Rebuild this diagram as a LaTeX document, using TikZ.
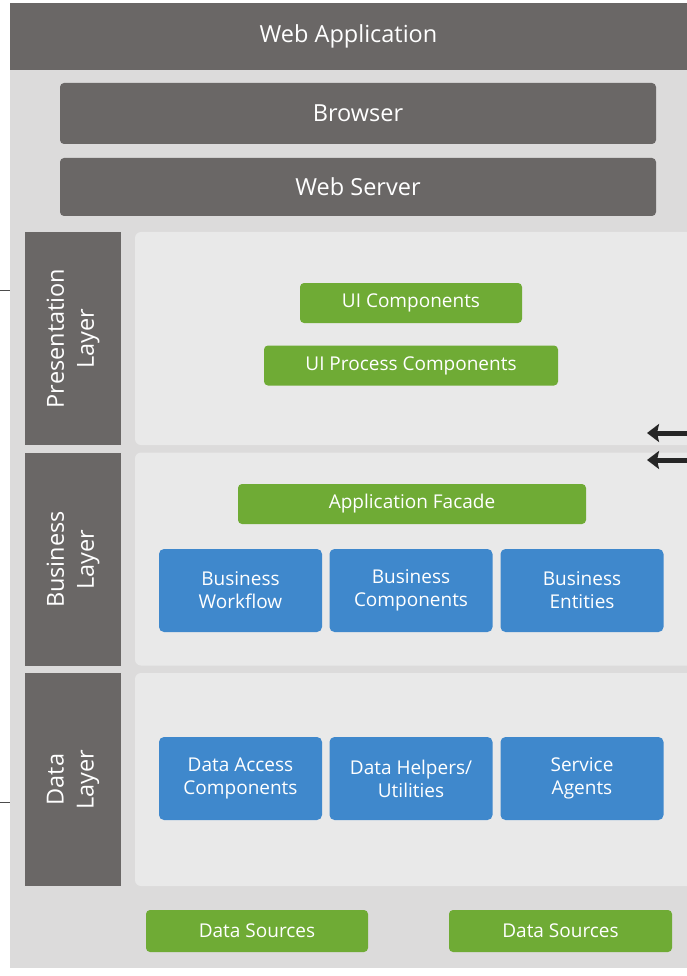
\documentclass[tikz,border=0pt]{standalone}
\usepackage{fontspec}
\setmainfont{Open Sans}
\usetikzlibrary{arrows.meta}
\definecolor{darkbar}{HTML}{6A6766}
\definecolor{panelgrey}{HTML}{DCDBDB}
\definecolor{innergrey}{HTML}{E9E9E9}
\definecolor{leafgreen}{HTML}{6FAB35}
\definecolor{tileblue}{HTML}{3F88CC}
\newcommand{\headfont}{\fontsize{23.5}{30}\selectfont}
\newcommand{\boxfont}{\fontsize{19}{23}\selectfont}

\begin{document}
\begin{tikzpicture}[x=1pt,y=-1pt]
		\tikzstyle{every node}+=[inner sep=0pt, align=center]
		\tikzstyle{topbar}=[fill=darkbar, text=white, font=\headfont]
		\tikzstyle{tierbox}=[fill=darkbar, text=white, font=\headfont, rounded corners=4pt, minimum width=596pt]
		\tikzstyle{layerbox}=[fill=darkbar, text=white, font=\headfont, rotate=90, minimum width=213pt, minimum height=96pt]
		\tikzstyle{panel}=[fill=innergrey, rounded corners=6pt, minimum height=213pt]
		\tikzstyle{greenbox}=[fill=leafgreen, text=white, font=\boxfont, rounded corners=4pt, minimum height=40pt]
		\tikzstyle{bluebox}=[fill=tileblue, text=white, font=\boxfont, rounded corners=5pt, minimum width=163pt, minimum height=83pt]
		\useasboundingbox (0,0) rectangle (687,976);
		\fill [white] (0,0) rectangle (687,976);
		\fill [panelgrey] (10,70) rectangle (687,968);
		\node [topbar, minimum width=677pt, minimum height=67pt] (webapp) at (348.5,36.5) {Web Application};
		\node [tierbox, minimum height=61pt] (browser) at (358,113.5) {Browser};
		\node [tierbox, minimum height=58pt] (webserver) at (358,187) {Web Server};
		\node [layerbox] (preslayer) at (73,338.5) {Presentation\\Layer};
		\node [panel, minimum width=562pt] (prespanel) at (416,338.5) {};
		\node [greenbox, minimum width=222pt] (uicomp) at (411,303) {UI Components};
		\node [greenbox, minimum width=294pt] (uiproc) at (411,365.5) {UI Process Components};
		\node [layerbox] (buslayer) at (73,559.5) {Business\\Layer};
		\node [panel, minimum width=562pt] (buspanel) at (416,559) {};
		\node [greenbox, minimum width=348pt] (facade) at (412,504) {Application Facade};
		\node [bluebox] (workflow) at (240.5,590.5) {Business\\Workflow};
		\node [bluebox] (buscomp) at (411,590.5) {Business\\Components};
		\node [bluebox] (entities) at (582,590.5) {Business\\Entities};
		\node [layerbox] (datalayer) at (73,779.5) {Data\\Layer};
		\node [panel, minimum width=562pt] (datapanel) at (416,779.5) {};
		\node [bluebox] (dataaccess) at (240.5,778.5) {Data Access\\Components};
		\node [bluebox] (helpers) at (411,778.5) {Data Helpers/\\Utilities};
		\node [bluebox] (agents) at (582,778.5) {Service\\Agents};
		\node [greenbox, minimum width=222pt, minimum height=42pt] (sourcesa) at (257,931) {Data Sources};
		\node [greenbox, minimum width=223pt, minimum height=42pt] (sourcesb) at (560.5,931) {Data Sources};
		\coordinate (presmark) at (0,290);
		\coordinate (datamark) at (0,802);
		\draw [black!70, line width=1pt] (presmark) -- (presmark -| webapp.west);
		\draw [black!70, line width=1pt] (datamark) -- (datamark -| webapp.west);
		\coordinate (arrowina) at (687,433);
		\coordinate (arrowinb) at (687,460);
		\draw [black!85, line width=5pt, -{Stealth[length=12pt,width=18pt,inset=2pt]}] (arrowina) -- (arrowina -| 647,0);
		\draw [black!85, line width=5pt, -{Stealth[length=12pt,width=18pt,inset=2pt]}] (arrowinb) -- (arrowinb -| 647,0);
	\end{tikzpicture}
\end{document}
